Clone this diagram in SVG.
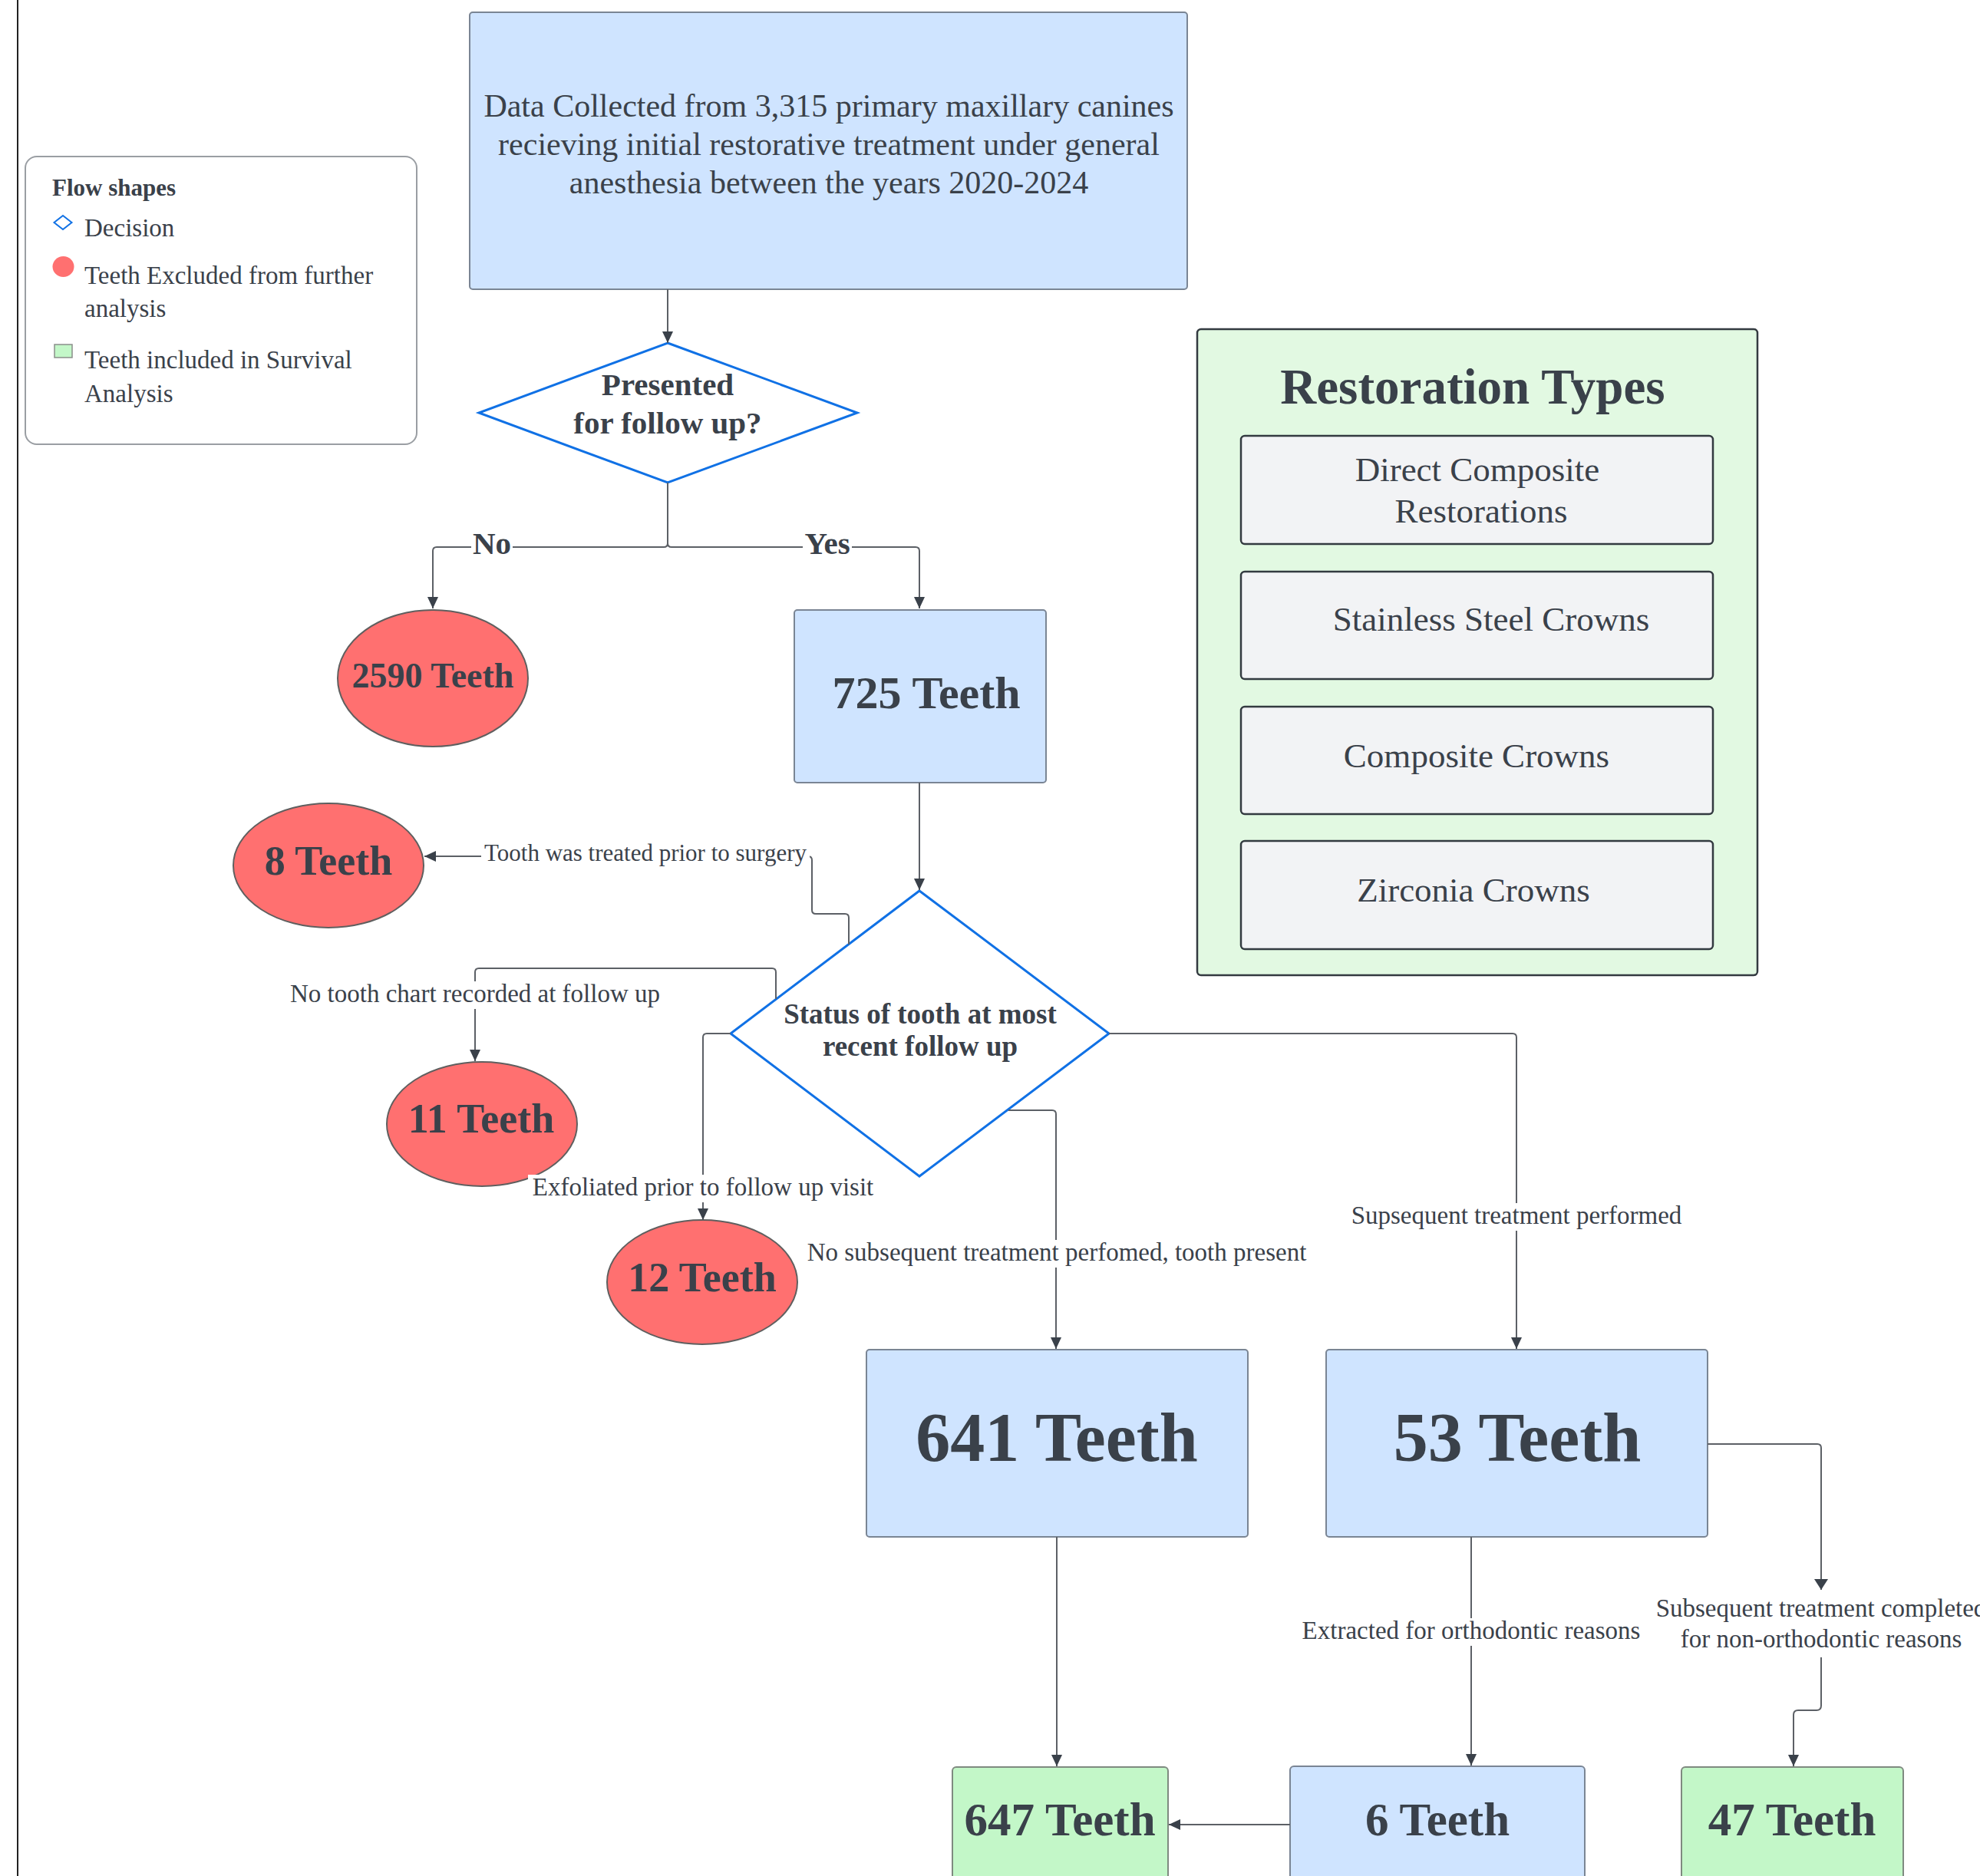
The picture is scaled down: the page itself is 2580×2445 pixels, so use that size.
<svg xmlns="http://www.w3.org/2000/svg" width="2580" height="2445" viewBox="0 0 2580 2445">
<style>
text{font-family:"Liberation Serif","Times New Roman",serif;fill:#3a414a;}
.b{font-weight:bold;}
.c{text-anchor:middle;}
.lbl{font-size:33px;text-anchor:middle;}
.lblb{font-size:41px;font-weight:bold;text-anchor:middle;}
.bg{fill:#fff;stroke:none;}
.blue{fill:#cfe4ff;stroke:#7a8594;stroke-width:2;}
.red{fill:#ff7070;stroke:#5f5f5f;stroke-width:2;}
.green{fill:#c3f7c8;stroke:#7f8a80;stroke-width:2;}
.dia{fill:#fff;stroke:#1071e5;stroke-width:3;}
.inner{fill:#f2f3f5;stroke:#333a40;stroke-width:2.5;}
.conn path{fill:none;stroke:#5c6066;stroke-width:2;marker-end:url(#ah);}
</style>
<defs>
<marker id="ah" markerUnits="userSpaceOnUse" markerWidth="16" markerHeight="16" refX="15" refY="7" orient="auto">
<path d="M0,0 L15,7 L0,14 Z" fill="#3a414a"/>
</marker>
<marker id="ahL" markerUnits="userSpaceOnUse" markerWidth="20" markerHeight="20" refX="14" refY="9" orient="auto">
<path d="M0,0 L14,9 L0,18 Z" fill="#3a414a"/>
</marker>
</defs>
<rect width="2580" height="2445" fill="#fff"/>
<line x1="23" y1="0" x2="23" y2="2445" stroke="#222" stroke-width="2"/>

<g id="legend">
<rect x="33" y="204" width="510" height="375" rx="15" fill="#fff" stroke="#9a9ea3" stroke-width="2"/>
<text class="b" x="68" y="255" font-size="31">Flow shapes</text>
<path d="M82,281 L93.5,290 L82,299 L70.5,290 Z" fill="#fff" stroke="#1071e5" stroke-width="2"/>
<text x="110" y="308" font-size="33">Decision</text>
<ellipse cx="82.5" cy="347.5" rx="14" ry="13.5" fill="#ff7070"/>
<text x="110" y="370" font-size="33">Teeth Excluded from further</text>
<text x="110" y="413" font-size="33">analysis</text>
<rect x="71" y="449" width="23" height="17" fill="#c3f7c8" stroke="#8a8f8a" stroke-width="1.5"/>
<text x="110" y="480" font-size="33">Teeth included in Survival</text>
<text x="110" y="524" font-size="33">Analysis</text>
</g>

<g id="restoration-types">
<rect x="1560" y="429" width="730" height="842" rx="5" fill="#e2f9e2" stroke="#333a40" stroke-width="2.5"/>
<text class="b c" x="1919" y="526" font-size="65">Restoration Types</text>
<rect class="inner" x="1617" y="568" width="615" height="141" rx="5"/>
<text class="c" x="1925" y="627" font-size="45">Direct Composite</text>
<text class="c" x="1930" y="681" font-size="45">Restorations</text>
<rect class="inner" x="1617" y="745" width="615" height="140" rx="5"/>
<text class="c" x="1943" y="822" font-size="45">Stainless Steel Crowns</text>
<rect class="inner" x="1617" y="921" width="615" height="140" rx="5"/>
<text class="c" x="1924" y="1000" font-size="45">Composite Crowns</text>
<rect class="inner" x="1617" y="1096" width="615" height="141" rx="5"/>
<text class="c" x="1920" y="1175" font-size="45">Zirconia Crowns</text>
</g>

<g id="n-start">
<rect class="blue" x="612" y="16" width="935" height="361" rx="4"/>
<text class="c" x="1080" y="152" font-size="42">Data Collected from 3,315 primary maxillary canines</text>
<text class="c" x="1080" y="202" font-size="42">recieving initial restorative treatment under general</text>
<text class="c" x="1080" y="252" font-size="42">anesthesia between the years 2020-2024</text>
</g>

<g id="n-presented">
<path class="dia" d="M870,447 L1117,538 L870,629 L624,538 Z"/>
<text class="b c" x="870" y="515" font-size="41">Presented</text>
<text class="b c" x="870" y="565" font-size="41">for follow up?</text>
</g>

<g id="n-2590">
<ellipse class="red" cx="564" cy="884" rx="124" ry="89"/>
<text class="b c" x="564" y="896" font-size="46">2590 Teeth</text>
</g>

<g id="n-725">
<rect class="blue" x="1035" y="795" width="328" height="225" rx="4"/>
<text class="b c" x="1207" y="923" font-size="60">725 Teeth</text>
</g>

<g id="n-status">
<path class="dia" d="M1198,1161 L1445,1347 L1198,1533 L952,1347 Z"/>
<text class="b c" x="1199" y="1334" font-size="37">Status of tooth at most</text>
<text class="b c" x="1199" y="1376" font-size="37">recent follow up</text>
</g>

<g id="n-8">
<ellipse class="red" cx="428" cy="1128" rx="124" ry="81"/>
<text class="b c" x="428" y="1140" font-size="54">8 Teeth</text>
</g>

<g id="n-11">
<ellipse class="red" cx="628" cy="1465" rx="124" ry="81"/>
<text class="b c" x="627" y="1476" font-size="54">11 Teeth</text>
</g>

<g id="n-12">
<ellipse class="red" cx="915" cy="1671" rx="124" ry="81"/>
<text class="b c" x="915" y="1683" font-size="54">12 Teeth</text>
</g>

<g id="n-641">
<rect class="blue" x="1129" y="1759" width="497" height="244" rx="4"/>
<text class="b c" x="1377" y="1904" font-size="90">641 Teeth</text>
</g>

<g id="n-53">
<rect class="blue" x="1728" y="1759" width="497" height="244" rx="4"/>
<text class="b c" x="1977" y="1904" font-size="90">53 Teeth</text>
</g>

<g id="n-647">
<rect class="green" x="1241" y="2303" width="281" height="170" rx="5"/>
<text class="b c" x="1381" y="2392" font-size="61">647 Teeth</text>
</g>

<g id="n-6">
<rect class="blue" x="1681" y="2302" width="384" height="170" rx="5"/>
<text class="b c" x="1873" y="2392" font-size="61">6 Teeth</text>
</g>

<g id="n-47">
<rect class="green" x="2191" y="2303" width="289" height="170" rx="5"/>
<text class="b c" x="2335" y="2392" font-size="61">47 Teeth</text>
</g>

<g id="connectors" class="conn">
<path d="M870,377 V447"/>
<path d="M870,629 V708 Q870,713 865,713 H569 Q564,713 564,718 V793"/>
<path d="M870,629 V708 Q870,713 875,713 H1193 Q1198,713 1198,718 V793"/>
<path d="M1198,1020 V1160"/>
<path d="M1106,1231 V1196 Q1106,1191 1101,1191 H1063 Q1058,1191 1058,1186 V1121 Q1058,1116 1053,1116 H553"/>
<path d="M1011,1302 V1267 Q1011,1262 1006,1262 H624 Q619,1262 619,1267 V1383"/>
<path d="M952,1347 H921 Q916,1347 916,1352 V1590"/>
<path d="M1314,1447 H1371 Q1376,1447 1376,1452 V1758"/>
<path d="M1445,1347 H1971 Q1976,1347 1976,1352 V1758"/>
<path d="M1377,2003 V2302"/>
<path d="M1917,2003 V2301"/>
<path d="M1681,2378 H1523"/>
<path d="M2225,1882 H2368 Q2373,1882 2373,1887 V2072" style="marker-end:url(#ahL)"/>
<path d="M2373,2160 V2223 Q2373,2229 2367,2229 H2343 Q2337,2229 2337,2235 V2302"/>
<rect class="bg" x="614" y="692" width="54" height="40"/>
<rect class="bg" x="1046" y="692" width="64" height="40"/>
<rect class="bg" x="627" y="1098" width="428" height="33"/>
<rect class="bg" x="372" y="1279" width="494" height="36"/>
<rect class="bg" x="688" y="1531" width="454" height="36"/>
<rect class="bg" x="1047" y="1616" width="661" height="36"/>
<rect class="bg" x="1757" y="1568" width="438" height="36"/>
<rect class="bg" x="1692" y="2109" width="449" height="36"/>
<text class="lblb" x="641" y="722">No</text>
<text class="lblb" x="1078" y="722">Yes</text>
<text class="lbl" x="841" y="1122" style="font-size:31px">Tooth was treated prior to surgery</text>
<text class="lbl" x="619" y="1306">No tooth chart recorded at follow up</text>
<text class="lbl" x="916" y="1558">Exfoliated prior to follow up visit</text>
<text class="lbl" x="1377" y="1643">No subsequent treatment perfomed, tooth present</text>
<text class="lbl" x="1976" y="1595">Supsequent treatment performed</text>
<text class="lbl" x="1917" y="2136">Extracted for orthodontic reasons</text>
<text class="lbl" x="2373" y="2107">Subsequent treatment completed</text>
<text class="lbl" x="2373" y="2147">for non-orthodontic reasons</text>
</g>
</svg>
